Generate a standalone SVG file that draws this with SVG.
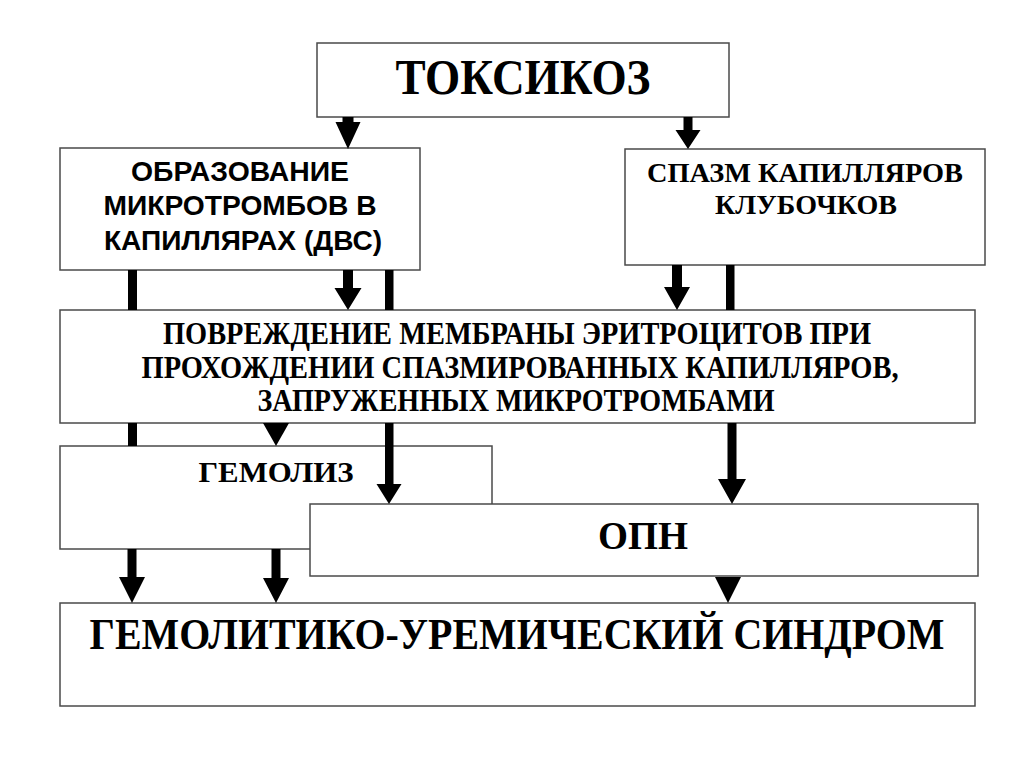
<svg xmlns="http://www.w3.org/2000/svg" width="1024" height="767" viewBox="0 0 1024 767">
<style>
.box{fill:#fff;stroke:#4a4a4a;stroke-width:1.5}
.serif{font-family:"Liberation Serif","Times New Roman",serif;font-weight:bold;fill:#000;text-anchor:middle}
.sans{font-family:"Liberation Sans",Arial,sans-serif;font-weight:bold;fill:#000;text-anchor:middle}
.conn{fill:#000;stroke:none}
</style>
<rect width="1024" height="767" fill="#fff"/>
<g id="toksikoz">
<rect class="box" x="317" y="43" width="412" height="74"/>
<text class="serif" x="523" y="94" font-size="50" textLength="255" lengthAdjust="spacingAndGlyphs">ТОКСИКОЗ</text>
</g>
<g id="obrazovanie">
<rect class="box" x="60" y="148" width="360" height="122"/>
<text class="sans" x="240" y="181" font-size="27" textLength="218" lengthAdjust="spacingAndGlyphs">ОБРАЗОВАНИЕ</text>
<text class="sans" x="240" y="215" font-size="27" textLength="273" lengthAdjust="spacingAndGlyphs">МИКРОТРОМБОВ В</text>
<text class="sans" x="243" y="250" font-size="27" textLength="278" lengthAdjust="spacingAndGlyphs">КАПИЛЛЯРАХ (ДВС)</text>
</g>
<g id="spazm">
<rect class="box" x="625" y="149" width="360" height="116"/>
<text class="serif" x="805" y="182" font-size="28" textLength="316" lengthAdjust="spacingAndGlyphs">СПАЗМ КАПИЛЛЯРОВ</text>
<text class="serif" x="806" y="214" font-size="28" textLength="182" lengthAdjust="spacingAndGlyphs">КЛУБОЧКОВ</text>
</g>
<g id="povrezhdenie">
<rect class="box" x="60" y="310" width="915" height="113"/>
<text class="serif" transform="translate(517 344) scale(1 1.1)" x="0" y="0" font-size="29" textLength="708" lengthAdjust="spacingAndGlyphs">ПОВРЕЖДЕНИЕ МЕМБРАНЫ ЭРИТРОЦИТОВ ПРИ</text>
<text class="serif" transform="translate(520 378) scale(1 1.1)" x="0" y="0" font-size="29" textLength="757" lengthAdjust="spacingAndGlyphs">ПРОХОЖДЕНИИ СПАЗМИРОВАННЫХ КАПИЛЛЯРОВ,</text>
<text class="serif" transform="translate(516 411) scale(1 1.1)" x="0" y="0" font-size="29" textLength="517" lengthAdjust="spacingAndGlyphs">ЗАПРУЖЕННЫХ МИКРОТРОМБАМИ</text>
</g>
<g id="gemoliz">
<rect class="box" x="60" y="446" width="432" height="103"/>
<text class="serif" x="276" y="482" font-size="29" textLength="155" lengthAdjust="spacingAndGlyphs">ГЕМОЛИЗ</text>
</g>
<g id="opn">
<rect class="box" x="310" y="504" width="668" height="72"/>
<text class="serif" x="643" y="549" font-size="40" textLength="90" lengthAdjust="spacingAndGlyphs">ОПН</text>
</g>
<g id="gus">
<rect class="box" x="60" y="603" width="915" height="103"/>
<text class="serif" transform="translate(517 649) scale(1 1.18)" x="0" y="0" font-size="38" textLength="855" lengthAdjust="spacingAndGlyphs">ГЕМОЛИТИКО-УРЕМИЧЕСКИЙ СИНДРОМ</text>
</g>
<g id="connectors" class="conn">
<path d="M342.5 117H353.5V122H360.5L348 149L335.5 122H342.5Z"/>
<path d="M683.5 117H692.5V130H700.5L688 149L675.5 130H683.5Z"/>
<rect x="128" y="270" width="9" height="40"/>
<rect x="385" y="270" width="8.5" height="40"/>
<path d="M343 270H353V288H361.5L348 310L334.5 288H343Z"/>
<path d="M672 265H682V287H690L677 310L664 287H672Z"/>
<rect x="726" y="265" width="8.5" height="45"/>
<rect x="128" y="423" width="9" height="23"/>
<path d="M263 423H289L276 446Z"/>
<path d="M385 423H393.5V484H401.5L389 504L376.5 484H385Z"/>
<path d="M727.5 423H736.5V479H746L732 504L718 479H727.5Z"/>
<path d="M127.5 549H136.5V577H145L132 603L119 577H127.5Z"/>
<path d="M271.5 549H280.5V578H289L276 603L263 578H271.5Z"/>
<path d="M715 577H741L728 603Z"/>
</g>
</svg>
